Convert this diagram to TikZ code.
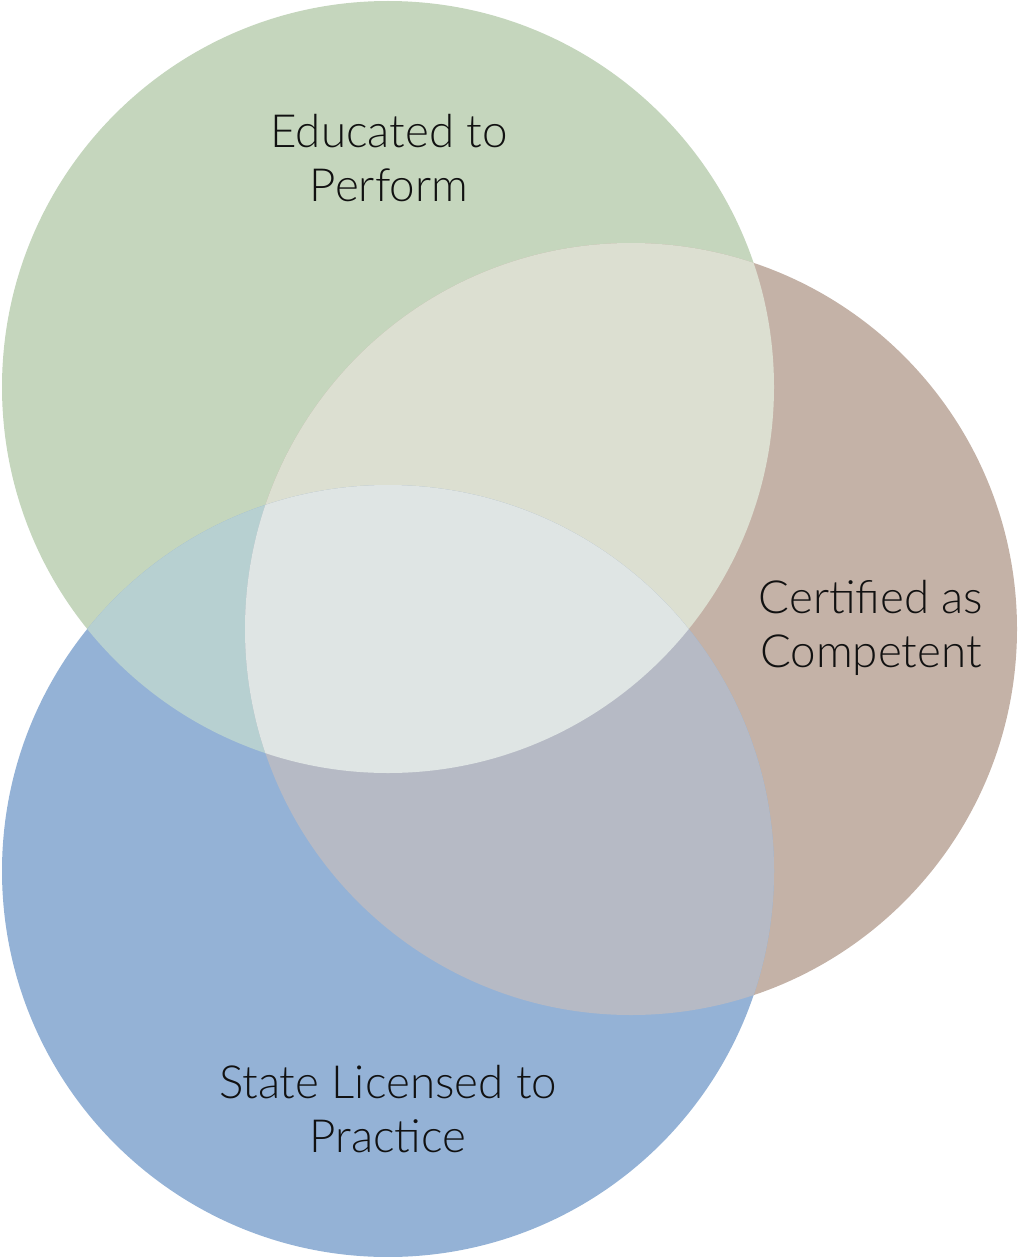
\documentclass[tikz,border=0pt]{standalone}
\usepackage{fontspec}
\setmainfont{Lato Light}
\definecolor{edugreen}{HTML}{C5D6BD}
\definecolor{certbrown}{HTML}{C4B2A7}
\definecolor{stateblue}{HTML}{94B2D6}
\definecolor{greenbrown}{HTML}{DCDFD1}
\definecolor{greenblue}{HTML}{B7D0D1}
\definecolor{brownblue}{HTML}{B6BAC5}
\definecolor{allthree}{HTML}{DFE5E4}
\definecolor{labeltext}{HTML}{111111}
\tikzset{
	vennlabel/.style={align=center, text=labeltext, inner sep=0pt,
		font=\fontsize{26pt}{30.7pt}\selectfont}
}
\begin{document}
\begin{tikzpicture}[x=0.02cm, y=-0.02cm]
		\useasboundingbox (0,0) rectangle (1019,1257);
		\def\educircle{(388,387) circle (386)}
		\def\certcircle{(631,629) circle (386)}
		\def\statecircle{(388,871) circle (386)}
		% single circles
		\fill[edugreen] \educircle;
		\fill[certbrown] \certcircle;
		\fill[stateblue] \statecircle;
		% two-way overlaps
		\begin{scope}
			\clip \educircle;
			\fill[greenbrown] \certcircle;
		\end{scope}
		\begin{scope}
			\clip \educircle;
			\fill[greenblue] \statecircle;
		\end{scope}
		\begin{scope}
			\clip \certcircle;
			\fill[brownblue] \statecircle;
		\end{scope}
		% centre
		\begin{scope}
			\clip \educircle;
			\clip \certcircle;
			\fill[allthree] \statecircle;
		\end{scope}
		% labels
		\node[vennlabel] (educated) at (389,158) {Educated to\\Perform};
		\node[vennlabel] (certified) at (871,628) {Certified as\\Competent};
		\node[vennlabel] (licensed) at (388,1109) {State Licensed to\\Practice};
	\end{tikzpicture}
\end{document}
